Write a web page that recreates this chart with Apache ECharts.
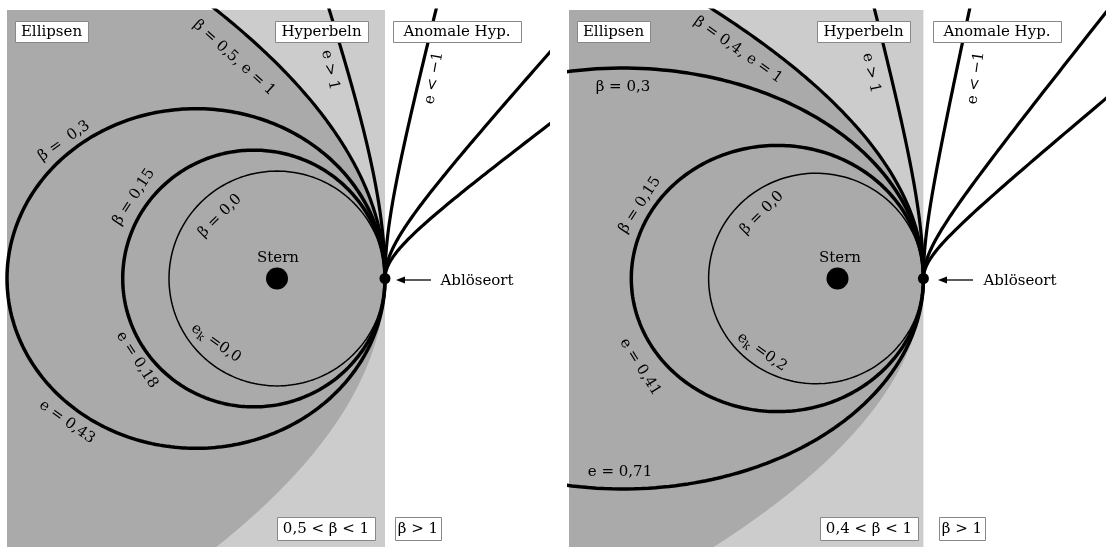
<!DOCTYPE html>
<html>
<head>
<meta charset="utf-8">
<script src="https://cdn.jsdelivr.net/npm/echarts@6/dist/echarts.min.js"></script>
<style>
  html, body { margin: 0; background: #fff; }
  #chart { width: 1106px; height: 547px; }
</style>
</head>
<body>
<div id="chart"></div>
<script>
// parameters, lengths in units of the parent orbit's semi-major axis
const ekLeft = 0.0;
const ekRight = 0.2;
const betaEllipseLeft = [0.0, 0.15, 0.3];
const betaEllipseRight = [0.0, 0.15, 0.3];
const betaParabolaLeft = 0.5;
const betaParabolaRight = 0.4;
const betaHyperbola = [0.75];
const betaAnomal = [1.33, 3, 5];
const extent = 2.5;

const FONT = "'DejaVu Serif', serif";
const DARK = "#aaaaaa";
const LIGHT = "#cccccc";

// conic through the release point (periastron of the parent orbit)
function orbit(ek, beta, closed) {
  const q = 1 - ek;
  const pts = [];
  const step = closed ? 1 : 0.2;
  for (let t = 0; t <= 360; t += step) {
    const th = (t * Math.PI) / 180;
    const d = 1 - beta + (ek + beta) * Math.cos(th);
    if (d <= 0) break;
    const r = (q * (1 + ek)) / d;
    if (!closed && r > 10) break;
    pts.push([r * Math.cos(th), r * Math.sin(th)]);
  }
  return pts;
}

function regionRect(ek) {
  const q = 1 - ek;
  return [[-extent, -extent], [q, -extent], [q, extent], [-extent, extent]];
}

function regionEllipses(ek) {
  const q = 1 - ek;
  const pts = [];
  for (let y = extent; y >= -extent - 1e-9; y -= 0.02) {
    pts.push([Math.max(-extent, q - (y * y) / (4 * q)), y]);
  }
  pts.push([-extent, -extent], [-extent, extent]);
  return pts;
}

function polySeries(idx, poly, fill, z) {
  return {
    type: "custom",
    xAxisIndex: idx,
    yAxisIndex: idx,
    silent: true,
    z: z,
    data: [0],
    renderItem: (params, api) => ({
      type: "polygon",
      shape: { points: poly.map((p) => api.coord(p)) },
      style: { fill: fill },
    }),
  };
}

function curve(idx, pts, width) {
  return {
    type: "line",
    xAxisIndex: idx,
    yAxisIndex: idx,
    data: pts,
    showSymbol: false,
    symbol: "none",
    clip: true,
    silent: true,
    z: 5,
    lineStyle: { color: "#000", width: width },
  };
}

function dot(idx, point, size) {
  return {
    type: "scatter", xAxisIndex: idx, yAxisIndex: idx, silent: true, z: 8,
    symbolSize: size, itemStyle: { color: "#000", opacity: 1 }, data: [point],
  };
}

function panelSeries(idx, ek, ellipses, betaPar) {
  const s = [];
  s.push(polySeries(idx, regionRect(ek), LIGHT, 1));
  s.push(polySeries(idx, regionEllipses(ek), DARK, 2));
  ellipses.forEach((b) => s.push(curve(idx, orbit(ek, b, true), b === 0 ? 1.5 : 3.5)));
  s.push(curve(idx, orbit(ek, betaPar, false), 3.2));
  betaHyperbola.forEach((b) => s.push(curve(idx, orbit(ek, b, false), 3.2)));
  betaAnomal.forEach((b) => s.push(curve(idx, orbit(ek, b, false), 3.2)));
  s.push(dot(idx, [0, 0], 22));
  s.push(dot(idx, [1 - ek, 0], 11));
  return s;
}

function label(x, y, text, rotDeg, size) {
  return {
    type: "text", x: x, y: y, z: 100,
    rotation: ((rotDeg || 0) * Math.PI) / 180,
    style: {
      text: text, fill: "#000", fontFamily: FONT, fontSize: size || 15,
      align: "center", verticalAlign: "middle",
    },
  };
}

function ekLabel(x, y, value, rotDeg) {
  return {
    type: "text", x: x, y: y, z: 100,
    rotation: (rotDeg * Math.PI) / 180,
    style: {
      text: "{a|e}{b|k}{a| =" + value + "}",
      align: "center", verticalAlign: "middle",
      rich: {
        a: { fontFamily: FONT, fontSize: 15, fill: "#000", lineHeight: 20 },
        b: { fontFamily: FONT, fontSize: 11, fill: "#000", verticalAlign: "bottom", lineHeight: 16 },
      },
    },
  };
}

function box(x, y, w, h, text) {
  return [
    { type: "rect", z: 100, shape: { x: x + 0.5, y: y + 0.5, width: w, height: h },
      style: { fill: "#fff", stroke: "#888", lineWidth: 1 } },
    label(x + w / 2, y + h / 2 + 1, text, 0, 15),
  ];
}

function arrow(x1, x2, y) {
  return [
    { type: "line", z: 100, shape: { x1: x1, y1: y, x2: x2 + 6, y2: y },
      style: { stroke: "#000", lineWidth: 1.3 } },
    { type: "polygon", z: 100, shape: { points: [[x2, y], [x2 + 9, y - 3.5], [x2 + 9, y + 3.5]] },
      style: { fill: "#000" } },
  ];
}

const graphics = [].concat(
  // left panel
  box(15, 21, 73, 21, "Ellipsen"),
  box(275, 21, 93, 21, "Hyperbeln"),
  box(393, 21, 128, 21, "Anomale Hyp."),
  box(277, 517, 98, 23, "0,5 < β < 1"),
  box(395, 517, 46, 23, "β > 1"),
  [
    label(234, 58, "β = 0,5, e = 1", -42),
    label(330, 70, "e > 1", -78),
    label(434, 78, "e < −1", 80),
    label(64, 141, "β =  0,3", 35),
    label(134, 197, "β = 0,15", 57),
    label(220, 216, "β = 0,0", 45),
    label(278, 258, "Stern", 0),
    label(137, 360, "e = 0,18", -57),
    ekLabel(216, 343, "0,0", -35),
    label(67, 422, "e = 0,43", -35),
    label(477, 281, "Ablöseort", 0),
  ],
  arrow(431, 396, 280),
  // right panel
  box(577, 21, 73, 21, "Ellipsen"),
  box(817, 21, 93, 21, "Hyperbeln"),
  box(933, 21, 128, 21, "Anomale Hyp."),
  box(820, 517, 98, 23, "0,4 < β < 1"),
  box(939, 517, 46, 23, "β > 1"),
  [
    label(738, 50, "β = 0,4, e = 1", -35),
    label(623, 87, "β = 0,3", 0),
    label(871, 73, "e > 1", -78),
    label(976, 78, "e < −1", 82),
    label(640, 205, "β = 0,15", 57),
    label(762, 213, "β = 0,0", 45),
    label(840, 258, "Stern", 0),
    label(640, 367, "e = 0,41", -58),
    ekLabel(762, 352, "0,2", -35),
    label(620, 472, "e = 0,71", 0),
    label(1020, 281, "Ablöseort", 0),
  ],
  arrow(973, 938, 280)
);

const chart = echarts.init(document.getElementById("chart"));
chart.setOption({
  animation: false,
  grid: [
    { left: 7, top: 10, width: 540, height: 540 },
    { left: 569, top: 10, width: 540, height: 540 },
  ],
  xAxis: [0, 1].map((i) => ({ gridIndex: i, type: "value", min: -extent, max: extent, show: false })),
  yAxis: [0, 1].map((i) => ({ gridIndex: i, type: "value", min: -extent, max: extent, show: false })),
  series: [].concat(
    panelSeries(0, ekLeft, betaEllipseLeft, betaParabolaLeft),
    panelSeries(1, ekRight, betaEllipseRight, betaParabolaRight)
  ),
  graphic: { elements: graphics },
});
</script>
</body>
</html>
